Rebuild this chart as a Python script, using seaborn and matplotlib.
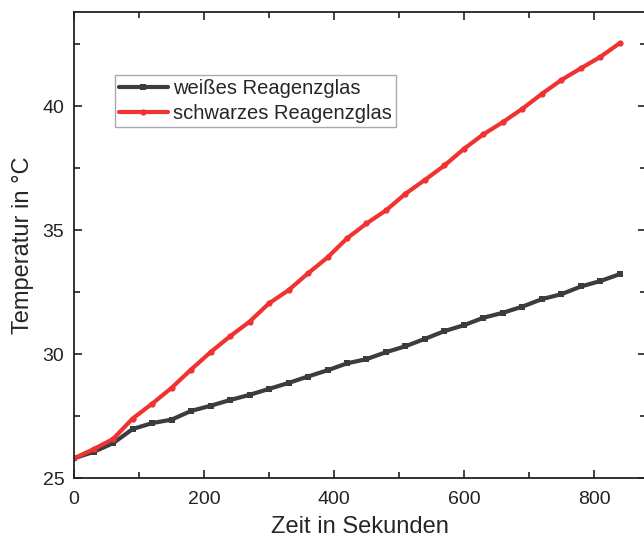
import numpy as np
import pandas as pd
import matplotlib
matplotlib.use("Agg")
import matplotlib.pyplot as plt
import seaborn as sns
from matplotlib.ticker import MultipleLocator

# Messwerte (alle 30 s)
zeit = list(range(0, 841, 30))
weiss = [25.8, 26.06, 26.41, 26.98, 27.22, 27.36, 27.71, 27.92, 28.15, 28.36,
         28.6, 28.84, 29.1, 29.35, 29.63, 29.8, 30.08, 30.32, 30.62, 30.93,
         31.17, 31.47, 31.67, 31.92, 32.22, 32.42, 32.73, 32.95, 33.23]
schwarz = [25.8, 26.17, 26.58, 27.4, 28.0, 28.64, 29.38, 30.08, 30.72, 31.31,
           32.05, 32.58, 33.26, 33.9, 34.67, 35.27, 35.8, 36.47, 37.03, 37.61,
           38.28, 38.87, 39.36, 39.9, 40.5, 41.06, 41.53, 41.99, 42.55]
namen = ["weißes Reagenzglas", "schwarzes Reagenzglas"]

sns.set_style("ticks")
plt.rcParams["font.family"] = ["Liberation Sans", "DejaVu Sans"]

df = pd.DataFrame({"zeit": zeit * 2,
                   "temp": weiss + schwarz,
                   "probe": [namen[0]] * len(zeit) + [namen[1]] * len(zeit)})

fig = plt.figure(figsize=(6.44, 5.44), dpi=100)
ax = fig.add_axes([0.115, 0.121, 0.888, 0.857])

sns.lineplot(data=df, x="zeit", y="temp", hue="probe", style="probe",
             palette={namen[0]: "#3c3c3c", namen[1]: "#f03232"},
             markers={namen[0]: "s", namen[1]: "o"}, dashes=False,
             markersize=4.5, markeredgewidth=0, linewidth=3, ax=ax)

ax.set_xlim(0, 880)
ax.set_ylim(25, 43.8)
ax.xaxis.set_major_locator(MultipleLocator(200))
ax.xaxis.set_minor_locator(MultipleLocator(100))
ax.yaxis.set_major_locator(MultipleLocator(5))
ax.yaxis.set_minor_locator(MultipleLocator(2.5))
ax.tick_params(which="both", direction="in", top=True, right=True,
               width=1.2, labelsize=14, colors="#222222")
ax.tick_params(which="major", length=6)
ax.tick_params(which="minor", length=4)
ax.tick_params(axis="x", which="major", pad=9)
ax.tick_params(axis="y", which="major", pad=7)
for s in ax.spines.values():
    s.set_linewidth(1.3)
    s.set_color("#222222")

ax.set_xlabel("Zeit in Sekunden", fontsize=17, labelpad=6)
ax.set_ylabel("Temperatur in °C", fontsize=17, labelpad=6)

leg = ax.legend(loc="upper left", bbox_to_anchor=(0.072, 0.865), fontsize=14.5,
                frameon=True, fancybox=False, handlelength=2.4,
                handletextpad=0.25, borderpad=0.2, labelspacing=0.3,
                borderaxespad=0)
leg.get_frame().set_edgecolor("#aaaaaa")
leg.get_frame().set_linewidth(1.0)
leg.get_frame().set_alpha(1)

fig.savefig("out.png", dpi=100)
